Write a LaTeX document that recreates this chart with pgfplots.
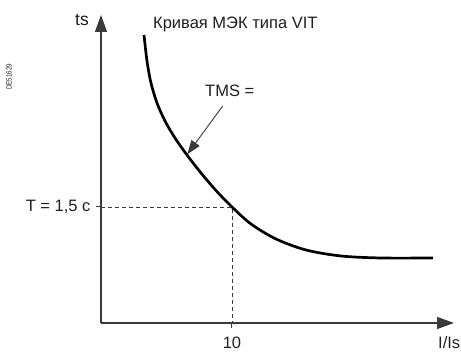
\documentclass[border=0pt]{standalone}
\usepackage{fontspec}
\setmainfont{Liberation Sans}
\newfontfamily\narrowfont[FakeStretch=0.83]{Liberation Sans}
\usepackage{pgfplots}
\pgfplotsset{compat=1.18}
\usetikzlibrary{arrows.meta}
\definecolor{axisgray}{HTML}{3A3A3A}
\definecolor{txt}{HTML}{1E1E1E}

\begin{document}
\begin{tikzpicture}
\begin{axis}[
  name=ax,
  scale only axis,
  width=353pt, height=308pt,
  xmin=0, xmax=353, ymin=0, ymax=308,
  axis lines=left,
  axis line style={axisgray, line width=1.3pt, -{Triangle[length=17pt,width=12pt]}},
  xtick={131}, xticklabels={10},
  ytick={116}, yticklabels={T = 1{,}5 c},
  tick align=outside,
  major tick length=5pt,
  tick style={axisgray, line width=1pt},
  ticklabel style={font=\fontsize{16.5}{18}\selectfont, text=txt},
  xticklabel style={yshift=-5pt},
  yticklabel style={xshift=-2pt},
  /pgf/number format/assume math mode=true,
  clip=false,
]
% guide lines to the marked point
\addplot[axisgray, line width=0.8pt, dash pattern=on 4pt off 3pt] coordinates {(0,116) (131,116) (131,0)};
% VIT curve
\addplot[black, line width=2.7pt, smooth, tension=0.5] coordinates {
  (43,288) (46,262) (50,240) (56,220) (64,202) (74,185) (86,168)
  (100,150) (115,132.5) (131,116) (150,99) (175,84) (205,73)
  (240,67) (280,65) (332,65)
};
\draw[axisgray, line width=0.9pt, -{Triangle[length=14pt,width=10pt]}]
  (axis cs:121.7,217) -- (axis cs:86.3,168.7);
\node[anchor=base west, inner sep=0pt, font=\fontsize{16.5}{18}\selectfont, text=txt] at (axis cs:52,294) {Кривая МЭК типа VIT};
\node[anchor=base west, inner sep=0pt, font=\fontsize{16.5}{18}\selectfont, text=txt] at (axis cs:104,226) {TMS =};
\node[anchor=base west, inner sep=0pt, font=\fontsize{17.5}{19}\selectfont, text=txt] at (axis cs:-26,297) {ts};
\node[anchor=base west, inner sep=0pt, font=\fontsize{16.5}{18}\selectfont, text=txt] at (axis cs:337,-26) {I/Is};
\node[rotate=90, font=\narrowfont\fontsize{7.5}{8}\selectfont, text=txt] at (axis cs:-92,246) {DE51629};
\end{axis}
\pgfresetboundingbox
\path[use as bounding box] (ax.south west) ++(-101pt,-29pt) rectangle ++(461pt,352pt);
\end{tikzpicture}
\end{document}
